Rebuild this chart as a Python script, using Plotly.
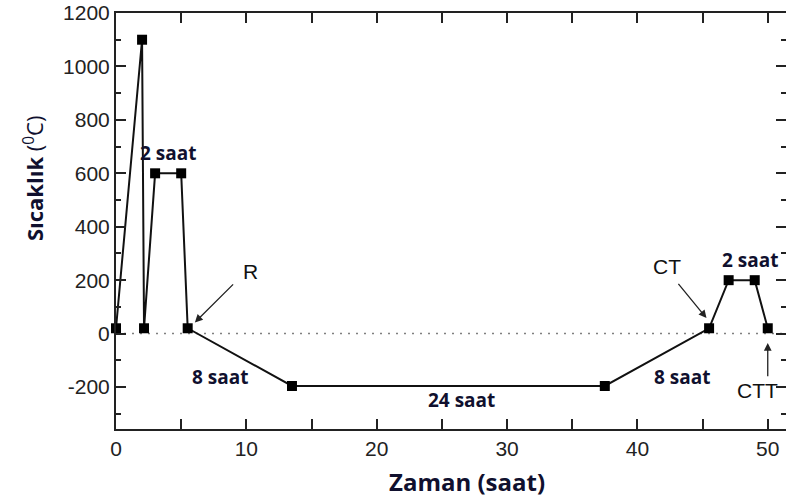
import plotly.graph_objects as go

# Data
time_h = [0, 2, 2.15, 3, 5, 5.5, 13.5, 37.5, 45.5, 47, 49, 50]
temp_c = [20, 1100, 20, 600, 600, 20, -196, -196, 20, 200, 200, 20]

x_ticks = [0, 10, 20, 30, 40, 50]
y_ticks = [-200, 0, 200, 400, 600, 800, 1000, 1200]
y_ticktext = ["-200", "0", "200", "400", "600", "800", "1000", "1200"]

# Text labels: (x, y, text)
bold_labels = [
    (4.0, 676, "2 saat"),
    (48.65, 274, "2 saat"),
    (8.0, -164, "8 saat"),
    (26.5, -250, "24 saat"),
    (43.4, -164, "8 saat"),
]
# Arrow labels: (text, text_x, text_y, tail_x, tail_y, head_x, head_y)
arrow_labels = [
    ("R", 10.3, 232, 9.1, 190, 6.05, 42),
    ("CT", 42.3, 252, 43.05, 192, 45.3, 58),
    ("CTT", 49.2, -212, 50.0, -165, 50.0, -35),
]

XR = [0, 51.4]
YR = [-357, 1200]
navy = "#10102e"
axis_col = "#222222"

fig = go.Figure()
fig.add_shape(type="line", xref="x", yref="y", x0=XR[0], x1=XR[1], y0=0, y1=0,
              line=dict(color="#808080", width=1.5, dash="2px,6px"), layer="below")
fig.add_trace(go.Scatter(x=time_h, y=temp_c, mode="lines+markers",
                         line=dict(color="#111111", width=2),
                         marker=dict(symbol="square", size=10, color="#000000"),
                         showlegend=False, cliponaxis=False))
# dummy trace to show right-side ticks
fig.add_trace(go.Scatter(x=[time_h[0]], y=[temp_c[0]], mode="markers", yaxis="y2",
                         marker=dict(opacity=0), showlegend=False, hoverinfo="skip"))

for (x, y, t) in bold_labels:
    fig.add_annotation(x=x, y=y, text=f"<b>{t}</b>", showarrow=False,
                       font=dict(family="Open Sans", size=19, color=navy))
for (t, tx, ty, ax, ay, hx, hy) in arrow_labels:
    fig.add_annotation(x=tx, y=ty, text=t, showarrow=False,
                       font=dict(family="Liberation Sans", size=21, color="#111111"))
    fig.add_annotation(x=hx, y=hy, ax=ax, ay=ay, axref="x", ayref="y", text="",
                       showarrow=True, arrowhead=2, arrowsize=1.2, arrowwidth=1.3,
                       arrowcolor="#222222")

# Axis titles
fig.add_annotation(xref="paper", yref="paper", x=0.524, y=-0.125,
                   xanchor="center", yanchor="middle",
                   text="<b>Zaman (saat)</b>", showarrow=False,
                   font=dict(family="Open Sans", size=24, color=navy))
fig.add_annotation(xref="paper", yref="paper", x=-0.124, y=0.603, textangle=-90,
                   xanchor="center", yanchor="middle",
                   text="<b>Sıcaklık</b> (<sup>0</sup>C)", showarrow=False,
                   font=dict(family="Open Sans", size=22, color=navy))

tickfont = dict(family="Liberation Sans", size=21, color="#222222")
fig.update_layout(
    width=786, height=502,
    margin=dict(l=116, r=0, t=13, b=73),
    plot_bgcolor="white", paper_bgcolor="white",
    xaxis=dict(range=XR, tickvals=x_ticks, ticks="inside", ticklen=10, tickwidth=1.5,
               tickcolor=axis_col, showline=True, linewidth=2, linecolor=axis_col,
               mirror="allticks", showgrid=False, zeroline=False, tickfont=tickfont,
               minor=dict(ticks="inside", ticklen=5, dtick=5, tickcolor=axis_col, showgrid=False)),
    yaxis=dict(range=YR, tickvals=y_ticks, ticktext=y_ticktext, ticks="inside", ticklen=10,
               tickwidth=1.5, tickcolor=axis_col, showline=True, linewidth=2, linecolor=axis_col,
               showgrid=False, zeroline=False, tickfont=tickfont,
               minor=dict(ticks="inside", ticklen=5, dtick=100, tickcolor=axis_col, showgrid=False)),
    yaxis2=dict(range=YR, overlaying="y", side="right", tickvals=y_ticks, ticks="inside",
                ticklen=10, tickwidth=1.5, tickcolor=axis_col, showline=False,
                showticklabels=False, showgrid=False, zeroline=False,
                minor=dict(ticks="inside", ticklen=5, dtick=100, tickcolor=axis_col, showgrid=False)),
)

fig.write_html("out.html")
